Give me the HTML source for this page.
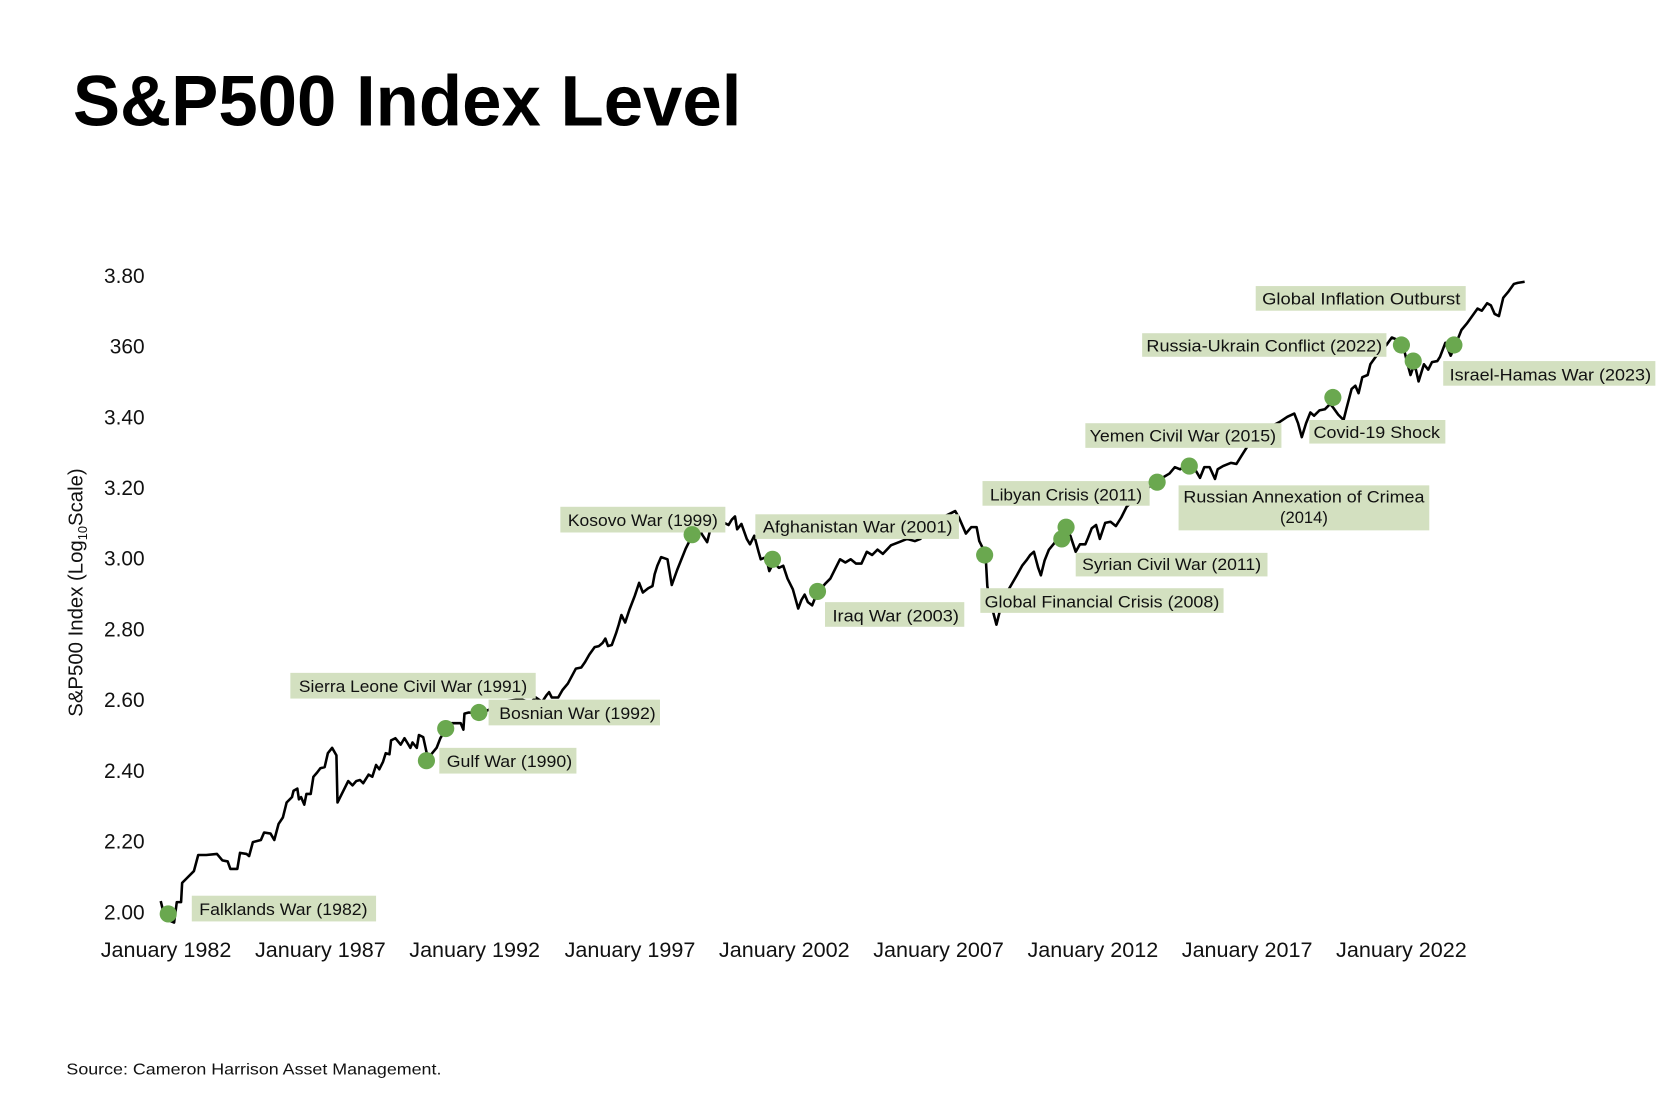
<!DOCTYPE html>
<html><head><meta charset="utf-8"><style>
html,body{margin:0;padding:0;background:#fff;}
svg{display:block;}
text{font-family:"Liberation Sans",sans-serif;fill:#111;}
.lb{font-size:15.5px;}
.ax{font-size:19.5px;}
</style></head><body>
<svg width="1680" height="1120" viewBox="0 0 1568 1045.33" xmlns="http://www.w3.org/2000/svg">
<rect width="1568" height="1046" fill="#fff"/>
<text x="68" y="117" font-size="67" font-weight="bold" textLength="624" lengthAdjust="spacingAndGlyphs" style="fill:#000">S&amp;P500 Index Level</text>

<g class="ax" text-anchor="end">
<text x="135" y="264">3.80</text>
<text x="135" y="330">360</text>
<text x="135" y="396">3.40</text>
<text x="135" y="462">3.20</text>
<text x="135" y="528">3.00</text>
<text x="135" y="594">2.80</text>
<text x="135" y="660">2.60</text>
<text x="135" y="726">2.40</text>
<text x="135" y="792">2.20</text>
<text x="135" y="858">2.00</text>
</g>
<g class="ax" text-anchor="middle">
<text x="155" y="893" textLength="122" lengthAdjust="spacingAndGlyphs">January 1982</text>
<text x="299" y="893" textLength="122" lengthAdjust="spacingAndGlyphs">January 1987</text>
<text x="443" y="893" textLength="122" lengthAdjust="spacingAndGlyphs">January 1992</text>
<text x="588" y="893" textLength="122" lengthAdjust="spacingAndGlyphs">January 1997</text>
<text x="732" y="893" textLength="122" lengthAdjust="spacingAndGlyphs">January 2002</text>
<text x="876" y="893" textLength="122" lengthAdjust="spacingAndGlyphs">January 2007</text>
<text x="1020" y="893" textLength="122" lengthAdjust="spacingAndGlyphs">January 2012</text>
<text x="1164" y="893" textLength="122" lengthAdjust="spacingAndGlyphs">January 2017</text>
<text x="1308" y="893" textLength="122" lengthAdjust="spacingAndGlyphs">January 2022</text>
</g>
<text transform="translate(77,553) rotate(-90)" text-anchor="middle" font-size="19">S&amp;P500 Index (Log<tspan font-size="12" dy="4">10</tspan><tspan dy="-4">Scale)</tspan></text>
<text x="62" y="1003" font-size="15" textLength="350" lengthAdjust="spacingAndGlyphs">Source:  Cameron Harrison Asset Management.</text>

<polyline fill="none" stroke="#000" stroke-width="2.4" stroke-linejoin="round" points="150,841 152.5,851 157.5,859 162.5,861 165,842 169,842 170,824 175,819 181,813 185,798 192.5,798 202.5,797 207.5,803 212.5,804 215,811 221.5,811 224,796 230,797 232.5,799 236,786 243.5,784 246.5,777 252.5,778 256,784 260,769 264,763 267.5,749 272.5,744 274,738 277.5,736 279,746 281,744 284,751 286,741 290,741 292.5,725 296,721 299,717 303,716 306,703 310,698 314,705 315,749 320,739 325,729 329,733 332.5,729 336,728 339,731 344,723 347.5,725 351,714 354,718 357.5,711 360,703 363.5,704 365,691 369,689 374,695 377.5,689 380,693 383,698 385,693 389,698 391,686 395,688 398.5,704 402.5,704 407.5,698 411,689 416.5,680 421.5,675 430,675 432.5,681 433.5,666 437.5,665 446.5,666 455,663 465,658 475,654 482.5,653 487.5,653 495,656 500,651 506,655 510,649 512.5,646 515,651 521,651 525,644 530,638 537.5,624 542.5,623 546,618 550,611 555,604 559,603 562.5,600 565,596 567.5,603 571,602 575,591 577.5,583 580,574 583.5,581 587.5,569 592.5,556 596.5,544 600,553 605,549 609,547 611,536 613.5,528 617,520 620,521 623,522 627,546 632,532 640,512 647,498 652,493 656,500 660,506 663,494 668,488 676,488 680,490 683,485 686,482 688,494 692,489 697,503 700,508 704,500 708,515 710,522 715,520 718,533 722,525 727,530 731,528 735,540 740,550 745,568 748,560 751,555 754,562 758,565 762,555 766,550 770,545 775,540 780,530 784,522 789,525 794,522 799,526 804,526 809,515 814,518 819,513 824,517 831.5,509 839,506 846.5,503 854,505 859,503 864,497 871.5,488 881.5,482 891.5,477 895,483 901.5,498 906.5,492 911.5,492 914,505 918,513 920,520 921.5,547 924,560 930,583 934,567 941.5,550 949,537 954,528 958,523 961.5,518 965,515 969,530 971.5,537 975,523 979,513 984,507 989,498 994,492 999,500 1004,515 1008,508 1013,508 1015.5,502 1019,493 1023,490 1026.5,503 1031.5,488 1036.5,487 1041.5,491 1046.5,483 1051.5,473 1058,467 1064,462 1069,458 1074,453 1080,450 1086.5,445 1091.5,442 1096.5,436 1101.5,438 1106.5,435 1111.5,433 1116.5,440 1120,446 1124,436 1129,436 1134,447 1136.5,438 1141.5,435 1149,432 1154,433 1159,425 1164,417 1171.5,410 1179,403 1186.5,398 1194,394 1201.5,389 1208,386 1211.5,395 1215,408 1219,395 1223,385 1226.5,388 1231.5,383 1236.5,382 1241.5,377 1244,380 1249,387 1254,392 1256.5,382 1261.5,363 1265,360 1268,367 1271.5,352 1276.5,350 1279,340 1284,333 1289,327 1294,322 1299,315 1304,317 1309,320 1313,337 1316.5,350 1319,343 1321.5,345 1324,356 1329,340 1333,345 1336.5,338 1341.5,337 1344,333 1349,320 1354,332 1358,323 1364,308 1369,302 1374,295 1379,288 1383,290 1388,283 1391.5,285 1395,293 1399,295 1403,278 1408,272 1413,265 1416.5,264 1423,263"/>

<g fill="#d3e0c0">
<rect x="179" y="836" width="172" height="24"/>
<rect x="410" y="698" width="128" height="24"/>
<rect x="271" y="628" width="229" height="24"/>
<rect x="456" y="653" width="160" height="24"/>
<rect x="523" y="473" width="154" height="24"/>
<rect x="705" y="480" width="190" height="23"/>
<rect x="770" y="562" width="130" height="23"/>
<rect x="915" y="549" width="227" height="23"/>
<rect x="1004" y="516" width="179" height="22"/>
<rect x="917" y="449" width="156" height="23"/>
<rect x="1100" y="453" width="234" height="42"/>
<rect x="1013" y="395" width="183" height="23"/>
<rect x="1222" y="392" width="127" height="22"/>
<rect x="1172" y="267" width="196" height="23"/>
<rect x="1066" y="311" width="228" height="22"/>
<rect x="1347" y="337" width="198" height="23"/>
</g>
<g fill="#6aa84f">
<circle cx="157" cy="853" r="8"/>
<circle cx="398" cy="710" r="8"/>
<circle cx="416" cy="680" r="8"/>
<circle cx="447" cy="665" r="8"/>
<circle cx="646" cy="499" r="8"/>
<circle cx="721" cy="522" r="8"/>
<circle cx="763" cy="552" r="8"/>
<circle cx="919" cy="518" r="8"/>
<circle cx="991" cy="503" r="8"/>
<circle cx="995" cy="492" r="8"/>
<circle cx="1080" cy="450" r="8"/>
<circle cx="1110" cy="435" r="8"/>
<circle cx="1244" cy="371" r="8"/>
<circle cx="1308" cy="322" r="8"/>
<circle cx="1319" cy="337" r="8"/>
<circle cx="1357" cy="322" r="8"/>
</g>
<g class="lb">
<text x="186" y="854" textLength="157" lengthAdjust="spacingAndGlyphs">Falklands War (1982)</text>
<text x="417" y="716" textLength="117" lengthAdjust="spacingAndGlyphs">Gulf War (1990)</text>
<text x="279" y="646" textLength="213" lengthAdjust="spacingAndGlyphs">Sierra Leone Civil War (1991)</text>
<text x="466" y="671" textLength="146" lengthAdjust="spacingAndGlyphs">Bosnian War (1992)</text>
<text x="530" y="491" textLength="140" lengthAdjust="spacingAndGlyphs">Kosovo War (1999)</text>
<text x="712" y="497" textLength="177" lengthAdjust="spacingAndGlyphs">Afghanistan War (2001)</text>
<text x="777" y="580" textLength="118" lengthAdjust="spacingAndGlyphs">Iraq War (2003)</text>
<text x="919" y="567" textLength="219" lengthAdjust="spacingAndGlyphs">Global Financial Crisis (2008)</text>
<text x="1010" y="532" textLength="167" lengthAdjust="spacingAndGlyphs">Syrian Civil War (2011)</text>
<text x="924" y="467" textLength="142" lengthAdjust="spacingAndGlyphs">Libyan Crisis (2011)</text>
<text x="1217" y="469" text-anchor="middle" textLength="225" lengthAdjust="spacingAndGlyphs">Russian Annexation of Crimea</text>
<text x="1217" y="488" text-anchor="middle">(2014)</text>
<text x="1017" y="412" textLength="174" lengthAdjust="spacingAndGlyphs">Yemen Civil War (2015)</text>
<text x="1226" y="409" textLength="118" lengthAdjust="spacingAndGlyphs">Covid-19 Shock</text>
<text x="1178" y="284" textLength="185" lengthAdjust="spacingAndGlyphs">Global Inflation Outburst</text>
<text x="1070" y="328" textLength="220" lengthAdjust="spacingAndGlyphs">Russia-Ukrain Conflict (2022)</text>
<text x="1353" y="355" textLength="188" lengthAdjust="spacingAndGlyphs">Israel-Hamas War (2023)</text>
</g>
</svg>
</body></html>
